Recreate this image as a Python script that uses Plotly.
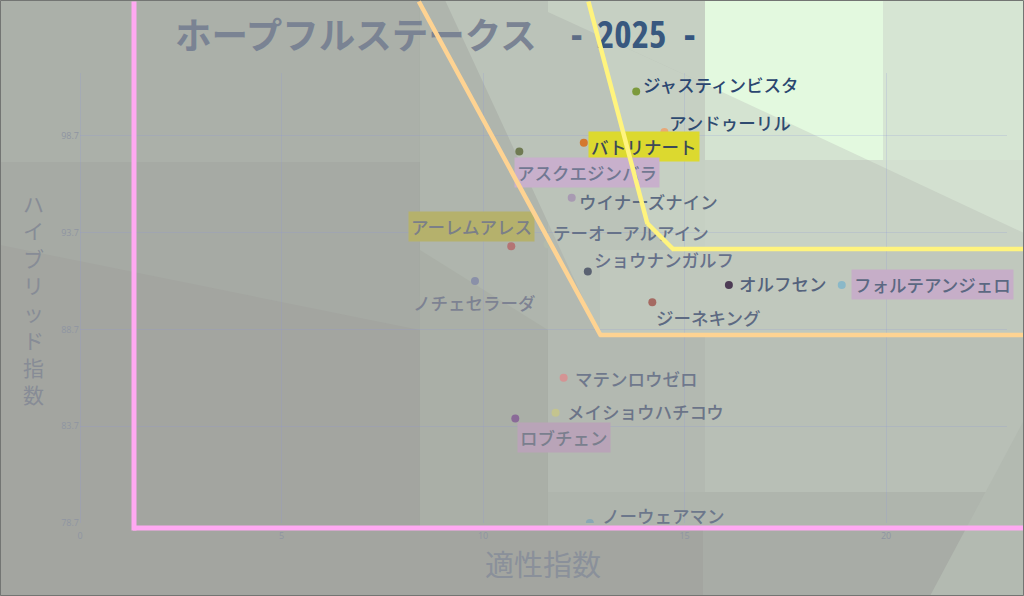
import plotly.graph_objects as go

# ---------------- data ----------------
names = ["ジャスティンビスタ", "アンドゥーリル", "バトリナート", "アスクエジンバラ",
         "ウイナーズナイン", "アーレムアレス", "テーオーアルアイン", "ショウナンガルフ",
         "ノチェセラーダ", "オルフセン", "フォルテアンジェロ", "ジーネキング",
         "マテンロウゼロ", "メイショウハチコウ", "ロブチェン", "ノーウェアマン"]
aptitude = [13.8, 14.5, 12.5, 10.9, 12.2, 10.7, 11.6, 12.6,
            9.8, 16.1, 18.9, 14.2, 12.0, 11.8, 10.8, 12.65]
hybrid = [101.0, 98.9, 98.35, 97.9, 95.5, 93.0, 93.1, 91.7,
          91.2, 91.0, 91.0, 90.1, 86.2, 84.4, 84.1, 78.7]
x_ticks = [0, 5, 10, 15, 20]
y_ticks = [78.7, 83.7, 88.7, 93.7, 98.7]
y_tick_text = ["78.7", "83.7", "88.7", "93.7", "98.7"]

title_text = "ホープフルステークス"
year_text = "2025"
x_title = "適性指数"
y_title = "ハイブリッド指数"

# ---------------- styles ----------------
marker_colors = ["#7c9a3c", "#e8a878", "#d4782f", "#6f7a52", "#a89ab2", "#b47474",
                 "#b2baac", "#5a6272", "#8a90a8", "#4d3c55", "#8ab8c8", "#a56a62",
                 "#d49494", "#c4c48e", "#8a6a98", "#8aa6b4"]
# label offsets in screen pixels from the marker (dx right, dy down)
label_dx = [5, 3, 60, 68, 5, -40, 3, 4, 0, 8, 91, 2, 9, 9, 48.5, 10]
label_dy = [-7, -9.3, 3.8, 21.5, 4, -19.7, -11.7, -11.7, 21.6, -1.4, -0.5, 15, 0.6, -1.3, 19, -8]
label_anchor = ["left", "left", "center", "center", "left", "center", "left", "left",
                "center", "left", "center", "left", "left", "left", "center", "left"]
label_color = ["#2b4670", "#2e4a70", "#3c4a58", "#717892", "#5d6b82", "#7b7f88",
               "#66728a", "#66708a", "#7d8292", "#54627c", "#5b6882", "#5d6a82",
               "#6f788c", "#6b7488", "#7a7f8e", "#6c778b"]
label_bg = [None, None, "#dcd92f", "#c8b0cc", None, "#b5b16c", None, None,
            None, None, "#c6aec8", None, None, None, "#b9a4b8", None]

W, H = 1024, 596
ML, MR, MT, MB = 80, 17, 73, 73
PW, PH = W - ML - MR, H - MT - MB
FONT = "Noto Sans CJK JP"


def pxx(x):
    return (x - ML) / PW


def pxy(y):
    return (H - MB - y) / PH


def poly(points):
    return "M " + " L ".join(f"{pxx(a):.5f},{pxy(b):.5f}" for a, b in points) + " Z"


bg_polys = [
    ([(0, 0), (1024, 0), (1024, 596), (0, 596)], "#a3a5a0"),
    ([(0, 0), (420, 0), (420, 162), (0, 162)], "#abb0a9"),
    ([(0, 162), (420, 162), (420, 330), (0, 245)], "#a6aaa4"),
    ([(420, 0), (548, 0), (548, 530), (420, 530)], "#aaafa7"),
    ([(420, 0), (548, 0), (548, 330), (420, 250)], "#afb5ad"),
    ([(548, 0), (1024, 0), (1024, 530), (548, 530)], "#b3b9b1"),
    ([(445, 0), (705, 0), (705, 335), (600, 335)], "#bbc3b9"),
    ([(548, 0), (705, 0), (705, 84), (548, 12)], "#c6d0c3"),
    ([(598, 35), (705, 84), (705, 250), (672, 249), (647, 223)], "#c6d0c3"),
    ([(705, 0), (883, 0), (883, 160), (705, 160)], "#d4e3d1"),
    ([(705, 0), (883, 0), (883, 160), (868, 160), (705, 84)], "#e3f9df"),
    ([(883, 0), (1024, 0), (1024, 160), (883, 160)], "#d6e5d3"),
    ([(705, 160), (1024, 160), (1024, 250), (705, 250)], "#c8d2c5"),
    ([(868, 160), (1024, 160), (1024, 233)], "#d3e0d0"),
    ([(600, 250), (1024, 250), (1024, 335), (600, 335)], "#c0c8bd"),
    ([(705, 335), (1024, 335), (1024, 492), (705, 492)], "#b8bfb6"),
    ([(548, 492), (1024, 492), (1024, 530), (548, 530)], "#afb5ad"),
    ([(703, 530), (1024, 530), (1024, 596), (703, 596)], "#a8aca6"),
    ([(930, 596), (1024, 420), (1024, 596)], "#b3bab1"),
]

shapes = []
for pts, col in bg_polys:
    shapes.append(dict(type="path", xref="paper", yref="paper", path=poly(pts),
                       fillcolor=col, line=dict(width=0), layer="below"))
shapes.append(dict(type="rect", xref="paper", yref="paper",
                   x0=pxx(0.5), x1=pxx(1023.5), y0=pxy(0.5), y1=pxy(595.5),
                   line=dict(color="#737573", width=1), layer="above"))

fig = go.Figure()
fig.add_trace(go.Scatter(
    x=aptitude, y=hybrid, mode="markers",
    marker=dict(size=8, color=marker_colors, line=dict(width=0)),
    hoverinfo="skip", showlegend=False))

annotations = []
for i, n in enumerate(names):
    a = dict(x=aptitude[i], y=hybrid[i], xref="x", yref="y", text=n, showarrow=False,
             xanchor=label_anchor[i], yanchor="middle",
             xshift=label_dx[i], yshift=-label_dy[i],
             font=dict(family=FONT, size=17.5, color=label_color[i], weight=500))
    if label_bg[i]:
        a.update(bgcolor=label_bg[i], borderpad=2)
    annotations.append(a)

# title
cond = "<span style='font-stretch:condensed'>{}</span>"
annotations.append(dict(x=pxx(173), y=pxy(33), xref="paper", yref="paper", text=title_text,
                        showarrow=False, xanchor="left", yanchor="middle",
                        font=dict(family=FONT, size=36.5, color="#7a8393", weight="bold")))
annotations.append(dict(x=pxx(569), y=pxy(33), xref="paper", yref="paper", text=cond.format("-"),
                        showarrow=False, xanchor="left", yanchor="middle",
                        font=dict(family="Open Sans", size=37, color="#5e6d86", weight="bold")))
annotations.append(dict(x=pxx(595), y=pxy(33), xref="paper", yref="paper",
                        text=cond.format(year_text),
                        showarrow=False, xanchor="left", yanchor="middle",
                        font=dict(family="Open Sans", size=37, color="#38587f", weight="bold")))
annotations.append(dict(x=pxx(682), y=pxy(33), xref="paper", yref="paper", text=cond.format("-"),
                        showarrow=False, xanchor="left", yanchor="middle",
                        font=dict(family="Open Sans", size=37, color="#35557f", weight="bold")))
# axis titles
annotations.append(dict(x=pxx(543), y=pxy(563), xref="paper", yref="paper", text=x_title,
                        showarrow=False, xanchor="center", yanchor="middle",
                        font=dict(family=FONT, size=29, color="#8a909a")))
annotations.append(dict(x=pxx(33), y=pxy(298), xref="paper", yref="paper",
                        text="<br>".join(list(y_title)),
                        showarrow=False, xanchor="center", yanchor="middle",
                        font=dict(family=FONT, size=21, color="#878c96")))


def seg(p0, p1, color, width):
    return dict(x=pxx(p1[0]), y=pxy(p1[1]), xref="paper", yref="paper",
                ax=p0[0] - p1[0], ay=p0[1] - p1[1], axref="pixel", ayref="pixel",
                showarrow=True, arrowhead=0, arrowwidth=width, arrowcolor=color,
                text="", standoff=0, startstandoff=0)


pink = "#ffa9f2"
orange = "#fed392"
yellow = "#fff47e"
annotations.append(seg((134, -10), (134, 530.5), pink, 5))
annotations.append(seg((131.5, 528), (1035, 528), pink, 5))
annotations.append(seg((418, -8), (601, 336), orange, 4.5))
annotations.append(seg((598, 335), (1035, 335), orange, 4.5))
annotations.append(seg((588, -8), (647.5, 224), yellow, 4.5))
annotations.append(seg((646, 222), (674, 250), yellow, 4.5))
annotations.append(seg((671, 249), (1035, 249), yellow, 4.5))

grid = "rgba(140,150,220,0.22)"
fig.update_layout(
    width=W, height=H, margin=dict(l=ML, r=MR, t=MT, b=MB),
    paper_bgcolor="#a3a5a0", plot_bgcolor="rgba(0,0,0,0)",
    shapes=shapes, annotations=annotations, showlegend=False,
    xaxis=dict(range=[0, 23], tickvals=x_ticks, showgrid=True, gridcolor=grid, gridwidth=1,
               zeroline=True, zerolinecolor=grid, zerolinewidth=1, showline=False,
               ticklabelstandoff=6,
               tickfont=dict(family="Open Sans", size=9, color="#8f95a2"), ticks=""),
    yaxis=dict(range=[78.7, 101.95], tickvals=y_ticks, ticktext=y_tick_text, showgrid=True,
               gridcolor=grid, gridwidth=1, zeroline=False, showline=False,
               tickfont=dict(family="Open Sans", size=9, color="#8f95a2"), ticks=""),
)

fig.write_html("out.html", config={"displayModeBar": False},
               post_script="document.body.style.margin='0';document.body.style.overflow='hidden';")
